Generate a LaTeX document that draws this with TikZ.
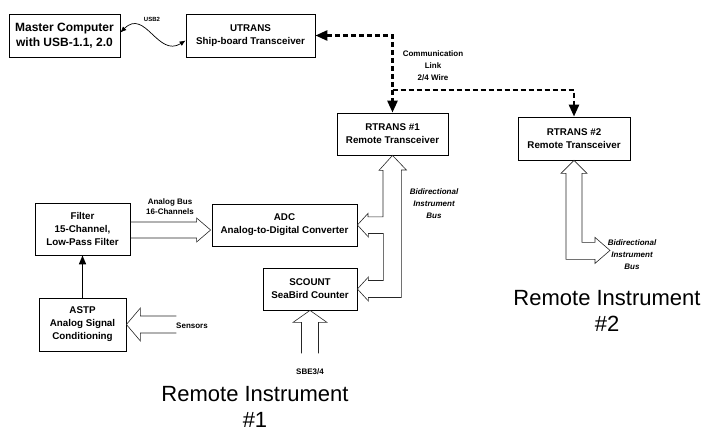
\documentclass[tikz,border=0pt]{standalone}
\usepackage{fontspec}
\setmainfont{Liberation Sans}
\usetikzlibrary{arrows.meta, positioning}

\begin{document}
\begin{tikzpicture}[x=1pt, y=-1pt,
  box/.style={draw=black, line width=0.8pt, fill=white, align=center, inner sep=0pt,
    font=\fontsize{9.8}{13}\selectfont\bfseries},
  bus/.style={draw=black!85, line width=0.6pt, line join=miter},
  link/.style={line width=2.6pt, dash pattern=on 5pt off 3pt},
  linktip/.tip={Triangle[length=12pt,width=10pt]},
  lbl/.style={align=center, inner sep=0pt, font=\fontsize{8}{10.5}\selectfont\bfseries},
  buslbl/.style={lbl, font=\fontsize{8}{12}\selectfont\bfseries\itshape},
  big/.style={align=center, inner sep=0pt, font=\fontsize{22}{26}\selectfont}]

\useasboundingbox (0,0) rectangle (705,434);

\node[box, minimum width=111pt, minimum height=43pt, font=\fontsize{12}{15}\selectfont\bfseries]
  (master) at (64.5,35.5) {Master Computer\\with USB-1.1, 2.0};
\node[box, minimum width=129pt, minimum height=43pt] (utrans) at (250.5,35.5) {UTRANS\\Ship-board Transceiver};
\node[box, minimum width=111pt, minimum height=42pt] (rt1) at (392.5,134) {RTRANS \#1\\Remote Transceiver};
\node[box, minimum width=112pt, minimum height=43pt] (rt2) at (574,138.5) {RTRANS \#2\\Remote Transceiver};
\node[box, minimum width=95pt, minimum height=52pt] (filter) at (82.5,229) {Filter\\15-Channel,\\Low-Pass Filter};
\node[box, minimum width=145pt, minimum height=42pt] (adc) at (284.5,225) {ADC\\Analog-to-Digital Converter};
\node[box, minimum width=94pt, minimum height=42pt] (scount) at (310,289) {SCOUNT\\SeaBird Counter};
\node[box, minimum width=87pt, minimum height=53pt] (astp) at (82.5,324.5) {ASTP\\Analog Signal\\Conditioning};

\coordinate (split) at (392.5,90);

\draw[line width=0.7pt, {Latex[length=6pt,width=5pt]}-{Latex[length=6pt,width=5pt]}]
  ([yshift=3pt]master.east) .. controls (145,8) and (158,58) .. ([yshift=-5pt]utrans.west);
\node[lbl, font=\fontsize{6}{7}\selectfont\bfseries] (usb) at (152,19) {USB2};

\draw[link, linktip-linktip] (utrans.east) -| (split) -- (rt1.north);
\draw[link, -linktip] (split) -| (rt2.north);
\node[lbl, font=\fontsize{8}{12}\selectfont\bfseries] (linklbl) at (433,66) {Communication\\Link\\2/4 Wire};

\draw[line width=1.6pt, -{Triangle[length=9pt,width=7pt]}] (astp.north) -- (filter.south);

\draw[bus] (adc.west) ++(-81,-3) -- ++(66,0) -- ++(0,-4) -- ++(14,12) -- ++(-14,12) -- ++(0,-4) -- ++(-66,0);
\node[lbl] (anbus) at (170,206.5) {Analog Bus\\16-Channels};

\draw[bus] (astp.east) ++(50,-8.5) -- ++(-36,0) -- ++(0,-8) -- ++(-14,16.5) -- ++(14,16.5) -- ++(0,-8) -- ++(36,0);
\node[lbl] (sensors) at (192,326) {Sensors};

\draw[bus] (scount.south) ++(-8.5,43) -- ++(0,-31) -- ++(-8.5,0) -- ++(17,-12) -- ++(17,12) -- ++(-8.5,0) -- ++(0,31);
\node[lbl] (sbe) at (310,372) {SBE3/4};

\draw[bus] (rt1.south) -- ++(-13.5,15) -- ++(4,0) -- ++(0,46.5) -- ++(-15,0) -- ++(0,-3.5)
  -- (adc.east) -- ++(11,12) -- ++(0,-3.5) -- ++(15,0) -- ++(0,47) -- ++(-15,0) -- ++(0,-3.5)
  -- (scount.east) -- ++(11,12) -- ++(0,-3.5) -- ++(33,0) -- ++(0,-127.5) -- ++(5,0) -- cycle;
\node[buslbl] (bus1) at (434,204) {Bidirectional\\Instrument\\Bus};

\draw[bus] (rt2.south) -- ++(-13,13) -- ++(5,0) -- ++(0,86) -- ++(29,0) -- ++(0,4) -- ++(15,-13)
  -- ++(-15,-13) -- ++(0,5) -- ++(-13,0) -- ++(0,-69) -- ++(5,0) -- cycle;
\node[buslbl] (bus2) at (632,255) {Bidirectional\\Instrument\\Bus};

\node[big] (ri1) at (255,407) {Remote Instrument\\\#1};
\node[big] (ri2) at (607,311) {Remote Instrument\\\#2};
\end{tikzpicture}
\end{document}
